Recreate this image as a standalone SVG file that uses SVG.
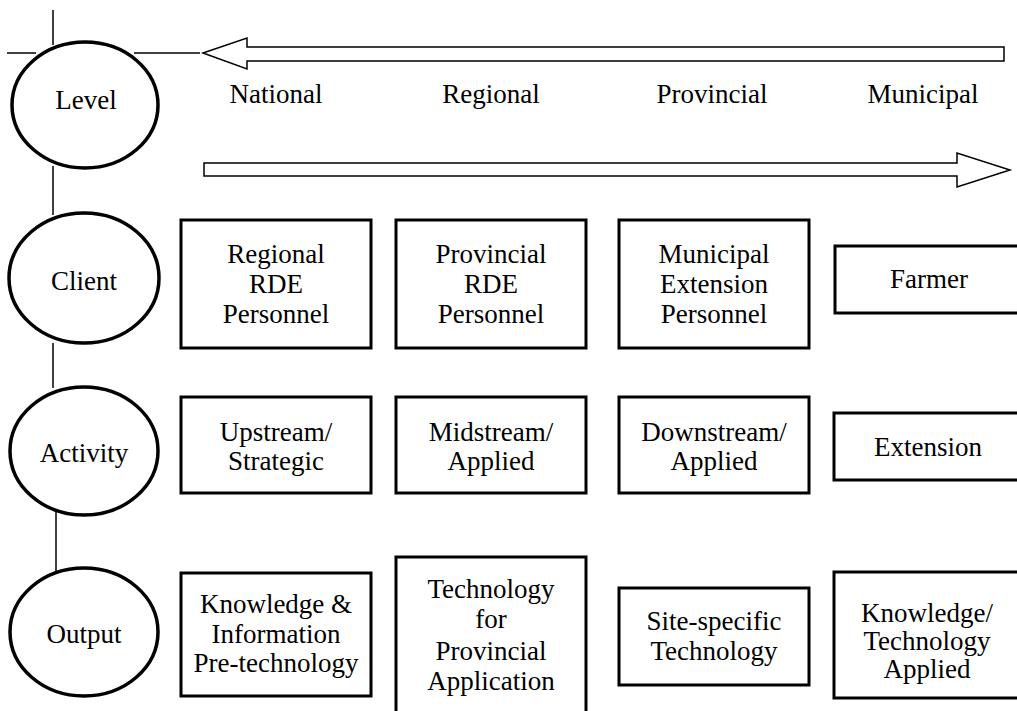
<svg xmlns="http://www.w3.org/2000/svg" width="1017" height="711" viewBox="0 0 1017 711" font-family="'Liberation Serif', 'DejaVu Serif', serif">
<style>
text{font-family:'Liberation Serif','DejaVu Serif',serif;font-size:27px;fill:#000;text-anchor:middle}
.box{fill:#fff;stroke:#000;stroke-width:3}
.ell{fill:#fff;stroke:#000;stroke-width:3.5}
.ln{stroke:#000;stroke-width:1.5;fill:none}
.arr{fill:#fff;stroke:#000;stroke-width:1.5;stroke-linejoin:miter}
</style>
<rect width="1017" height="711" fill="#fff"/>
<g id="connectors">
<line class="ln" x1="53" y1="10" x2="53" y2="45"/>
<line class="ln" x1="7" y1="53" x2="36" y2="53"/>
<line class="ln" x1="134" y1="53" x2="200" y2="53"/>
<line class="ln" x1="53" y1="166" x2="53" y2="215"/>
<line class="ln" x1="53" y1="343" x2="53" y2="388"/>
<line class="ln" x1="56" y1="507" x2="56" y2="573"/>
<polygon id="arrow-left" class="arr" points="203,53 247,38 247,47 1004,47 1004,61 247,61 247,69"/>
<polygon id="arrow-right" class="arr" points="204,163 957,163 957,153 1010,170 957,187 957,176 204,176"/>
</g>
<g id="level-labels">
<text x="276" y="103">National</text>
<text x="491" y="103">Regional</text>
<text x="712" y="103">Provincial</text>
<text x="923" y="103">Municipal</text>
</g>
<g id="level"><ellipse class="ell" cx="85" cy="105" rx="73" ry="63"/><text x="86" y="109">Level</text></g>
<g id="client"><ellipse class="ell" cx="84" cy="278" rx="75" ry="65"/><text x="84" y="290">Client</text></g>
<g id="activity"><ellipse class="ell" cx="84" cy="451" rx="74" ry="64"/><text x="84" y="462">Activity</text></g>
<g id="output"><ellipse class="ell" cx="84" cy="632" rx="74" ry="64"/><text x="84" y="643">Output</text></g>
<g id="client-1"><rect class="box" x="181" y="220" width="190" height="128"/><text x="276" y="263">Regional</text><text x="276" y="293">RDE</text><text x="276" y="323">Personnel</text></g>
<g id="client-2"><rect class="box" x="396" y="220" width="190" height="128"/><text x="491" y="263">Provincial</text><text x="491" y="293">RDE</text><text x="491" y="323">Personnel</text></g>
<g id="client-3"><rect class="box" x="619" y="220" width="190" height="128"/><text x="714" y="263">Municipal</text><text x="714" y="293">Extension</text><text x="714" y="323">Personnel</text></g>
<g id="client-4"><rect class="box" x="835" y="246" width="190" height="67"/><text x="929" y="288">Farmer</text></g>
<g id="activity-1"><rect class="box" x="181" y="397" width="190" height="96"/><text x="276" y="441">Upstream/</text><text x="276" y="470">Strategic</text></g>
<g id="activity-2"><rect class="box" x="396" y="397" width="190" height="96"/><text x="491" y="441">Midstream/</text><text x="491" y="470">Applied</text></g>
<g id="activity-3"><rect class="box" x="619" y="397" width="190" height="96"/><text x="714" y="441">Downstream/</text><text x="714" y="470">Applied</text></g>
<g id="activity-4"><rect class="box" x="834" y="413" width="190" height="67"/><text x="928" y="456">Extension</text></g>
<g id="output-1"><rect class="box" x="181" y="573" width="190" height="123"/><text x="276" y="613">Knowledge &amp;</text><text x="276" y="643">Information</text><text x="276" y="672">Pre-technology</text></g>
<g id="output-2"><rect class="box" x="396" y="557" width="190" height="160"/><text x="491" y="598">Technology</text><text x="491" y="628">for</text><text x="491" y="660">Provincial</text><text x="491" y="690">Application</text></g>
<g id="output-3"><rect class="box" x="619" y="588" width="190" height="97"/><text x="714" y="630">Site-specific</text><text x="714" y="660">Technology</text></g>
<g id="output-4"><rect class="box" x="834" y="572" width="190" height="126"/><text x="927" y="622">Knowledge/</text><text x="927" y="650">Technology</text><text x="927" y="678">Applied</text></g>
</svg>
